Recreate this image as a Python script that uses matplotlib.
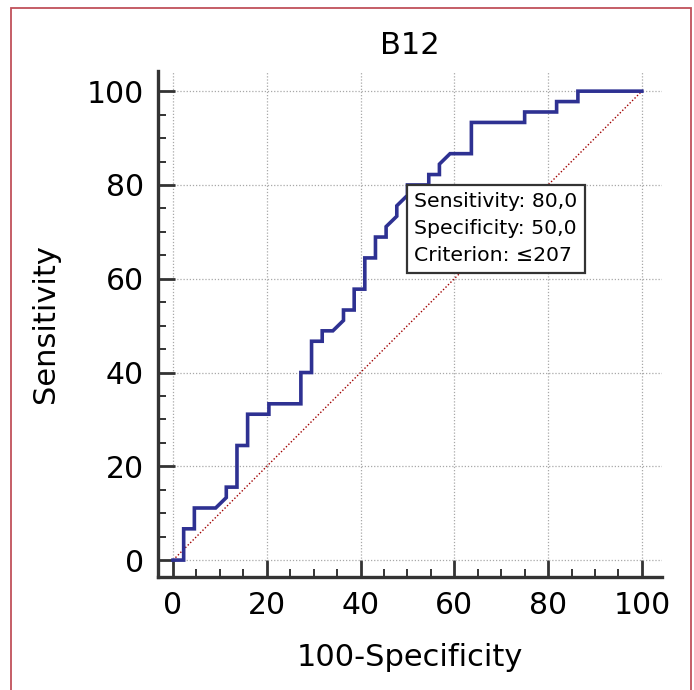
import numpy as np
import matplotlib
matplotlib.use("Agg")
import matplotlib.pyplot as plt
from matplotlib.patches import Rectangle
from matplotlib.ticker import MultipleLocator

# ROC curve vertices (100-Specificity, Sensitivity)
fpr = [0, 2.27, 2.27, 4.55, 4.55, 9.09, 11.36, 11.36, 13.64, 13.64,
       15.91, 15.91, 20.45, 20.45, 27.27, 27.27, 29.55, 29.55, 31.82, 31.82,
       34.09, 36.36, 36.36, 38.64, 38.64, 40.91, 40.91, 43.18, 43.18, 45.45,
       45.45, 47.73, 47.73, 50.0, 50.0, 54.55, 54.55, 56.82, 56.82, 59.09,
       63.64, 63.64, 75.0, 75.0, 81.82, 81.82, 86.36, 86.36, 100]
tpr = [0, 0, 6.67, 6.67, 11.11, 11.11, 13.33, 15.56, 15.56, 24.44,
       24.44, 31.11, 31.11, 33.33, 33.33, 40.0, 40.0, 46.67, 46.67, 48.89,
       48.89, 51.11, 53.33, 53.33, 57.78, 57.78, 64.44, 64.44, 68.89, 68.89,
       71.11, 73.33, 75.56, 77.78, 80.0, 80.0, 82.22, 82.22, 84.44, 86.67,
       86.67, 93.33, 93.33, 95.56, 95.56, 97.78, 97.78, 100, 100]

diag = [0, 100]
crit_point = (50, 80)
box_lines = ["Sensitivity: 80,0", "Specificity: 50,0", "Criterion: \u2264207"]
ticks = [0, 20, 40, 60, 80, 100]

fig = plt.figure(figsize=(6.94, 6.90), dpi=100)
ax = fig.add_axes([0.2277, 0.1638, 0.7262, 0.7333])

spine_c = "#333333"
ax.grid(True, which="major", color="#a8a8a8", linestyle=(0, (1, 1.5)), linewidth=0.9)
ax.set_axisbelow(True)

ax.plot(diag, diag, color="#a00000", linestyle=(0, (1, 1.5)), linewidth=1.0, zorder=2)
ax.plot(fpr, tpr, color="#2e3192", linewidth=2.6, zorder=3, solid_joinstyle="miter")

ax.set_xlim(-3.2, 104.3)
ax.set_ylim(-3.6, 104.3)
ax.set_xticks(ticks)
ax.set_yticks(ticks)
ax.xaxis.set_minor_locator(MultipleLocator(5))
ax.yaxis.set_minor_locator(MultipleLocator(5))

for s in ["top", "right"]:
    ax.spines[s].set_visible(False)
for s in ["left", "bottom"]:
    ax.spines[s].set_color(spine_c)
    ax.spines[s].set_linewidth(2.4)

ax.tick_params(which="major", direction="in", length=12, width=2.0, color=spine_c,
               labelsize=21.5, pad=10)
ax.tick_params(which="minor", direction="in", length=6, width=1.4, color=spine_c)

ax.set_xlabel("100-Specificity", fontsize=22, labelpad=17)
ax.set_ylabel("Sensitivity", fontsize=22, labelpad=19)
ax.set_title("B12", fontsize=22, pad=12)

ax.annotate("\n".join(box_lines), xy=crit_point, xytext=(5, -5),
            textcoords="offset points", ha="left", va="top", fontsize=14.7,
            linespacing=1.55, zorder=4,
            bbox=dict(boxstyle="square,pad=0.35", fc="white", ec=spine_c, lw=1.6))

fig.patches.append(Rectangle((11 / 694, -0.02), 680 / 694, 1 - 8 / 690 + 0.02,
                             transform=fig.transFigure, fill=False,
                             edgecolor="#c0505a", linewidth=1.3))

fig.savefig("out.png", dpi=100)
